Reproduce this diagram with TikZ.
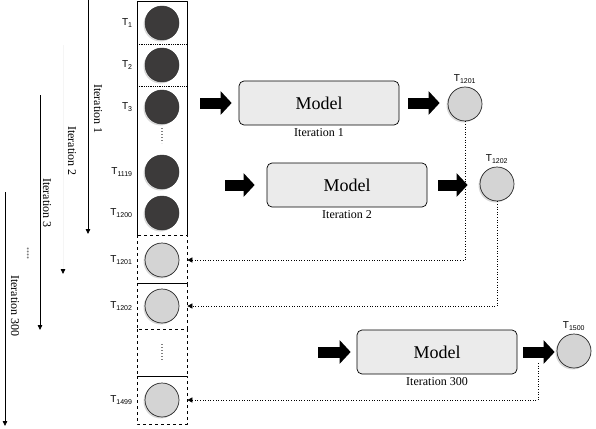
\documentclass[tikz,border=0pt]{standalone}
\usepackage{fontspec}
\setmainfont{Liberation Serif}
\setsansfont{Liberation Sans}
\usetikzlibrary{positioning,arrows.meta,shadows,calc}
\definecolor{ballD}{HTML}{3C3A3A}
\definecolor{ballL}{HTML}{D4D4D4}
\definecolor{boxL}{HTML}{EBEBEB}
\begin{document}
\begin{tikzpicture}[x=1pt,y=-1pt,>=Triangle, line join=round,
  darkball/.style={circle,minimum size=34pt,inner sep=0pt,fill=ballD,draw=black!80,line width=0.5pt,
    drop shadow={shadow xshift=-1.5pt,shadow yshift=-1.5pt,opacity=.3}},
  lightball/.style={circle,minimum size=34pt,inner sep=0pt,fill=ballL,draw=black!85,line width=0.7pt,
    drop shadow={shadow xshift=-1.5pt,shadow yshift=-1.5pt,opacity=.3}},
  tlab/.style={font=\sffamily\fontsize{10}{11}\selectfont,inner sep=1pt},
  modelbox/.style={rounded corners=5pt,fill=boxL,draw=black,line width=0.7pt,minimum width=160pt,
    minimum height=44pt,font=\fontsize{18}{20}\selectfont},
  itlab/.style={font=\fontsize{12}{14}\selectfont,inner sep=1pt},
  fatarrow/.style={line width=11pt,-{Triangle[length=11pt,width=23pt]}},
  back/.style={dotted,line width=0.6pt,->,>={Triangle[length=5pt,width=5pt]}},
  itarrow/.style={line width=0.8pt,->,>={Triangle[length=5pt,width=4.5pt]}}]
\useasboundingbox (0,0) rectangle (596,428);
% column of time steps
\draw[line width=0.7pt] (137,235) -- (137,1) -- (187,1) -- (187,235);
\draw[densely dotted,line width=0.8pt] (137,44) -- (187,44) (137,86) -- (187,86);
\draw[dashed,line width=0.7pt] (137,235) rectangle (187,283) (137,283) rectangle (187,329)
  (137,329) -- (137,376) (187,329) -- (187,376) (137,376) rectangle (187,424);
\draw[line width=0.7pt] (137,376) -- (187,376);
\draw[gray,line width=1.3pt,dash pattern=on 1.3pt off 1.7pt] (162,128) -- (162,143);
\draw[gray,line width=1.3pt,dash pattern=on 1.3pt off 1.7pt] (162,344) -- (162,360);
\foreach \n/\y in {1/23,2/65,3/107,1119/172,1200/213}
  \node[darkball] (t\n) at (162,\y) {};
\foreach \n/\y in {1201/260,1202/306,1499/400}
  \node[lightball] (t\n) at (162,\y) {};
\foreach \n in {1,2,3,1119,1200,1201,1202,1499}
  \node[tlab,left=11pt of t\n] {T\textsubscript{\n}};
% iterations
\coordinate (i1s) at (88,0);   \coordinate (i1e) at (88,234);
\coordinate (i2s) at (63,45);  \coordinate (i2e) at (63,274);
\coordinate (i3s) at (40,95);  \coordinate (i3e) at (40,330);
\coordinate (i4s) at (5,192);  \coordinate (i4e) at (5,426);
\draw[itarrow] (i1s) -- (i1e);
\draw[itarrow,black!4,>={Triangle[length=5pt,width=4.5pt,black]}] (i2s) -- (i2e);
\draw[itarrow] (i3s) -- (i3e);
\draw[itarrow] (i4s) -- (i4e);
\node[itlab,rotate=-90] at (98,109) {Iteration 1};
\node[itlab,rotate=-90] at (72,151) {Iteration 2};
\node[itlab,rotate=-90] at (47,203) {Iteration 3};
\node[itlab,rotate=-90] at (15,306) {Iteration 300};
\node[itlab,rotate=-90,gray,font=\bfseries\fontsize{12}{14}\selectfont] at (28,253) {....};
% models
\node[modelbox] (m1) at (319,103) {Model};
\node[modelbox] (m2) at (347,185) {Model};
\node[modelbox] (m3) at (437,352) {Model};
\node[itlab,below=2pt of m1] {Iteration 1};
\node[itlab,below=2pt of m2] {Iteration 2};
\node[itlab,below=2pt of m3] {Iteration 300};
\node[lightball] (r1201) at (465,104) {};
\node[lightball] (r1202) at (497,184) {};
\node[lightball] (r1500) at (574,351) {};
\node[tlab,above=2pt of r1201] {T\textsubscript{1201}};
\node[tlab,above=2pt of r1202] {T\textsubscript{1202}};
\node[tlab,above=2pt of r1500] {T\textsubscript{1500}};
\coordinate (in1) at (200,103);
\coordinate (in2) at (225,185);
\coordinate (in3) at (318,352);
\draw[fatarrow,shorten >=7pt] (in1) -- (m1.west);
\draw[fatarrow,shorten >=12pt] (in2) -- (m2.west);
\draw[fatarrow,shorten >=6pt] (in3) -- (m3.west);
\draw[fatarrow,shorten <=9pt,shorten >=8pt] (m1.east) -- (m1.east -| r1201.west);
\draw[fatarrow,shorten <=11pt,shorten >=12pt] (m2.east) -- (m2.east -| r1202.west);
\draw[fatarrow,shorten <=6pt,shorten >=2pt] (m3.east) -- (m3.east -| r1500.west);
% feedback into the column
\coordinate (f300) at (538,363);
\draw[back,shorten >=8pt] (r1201) |- (t1201);
\draw[back,shorten >=8pt] (r1202) |- (t1202);
\draw[back,shorten >=8pt] (f300) |- (t1499);
\end{tikzpicture}
\end{document}
